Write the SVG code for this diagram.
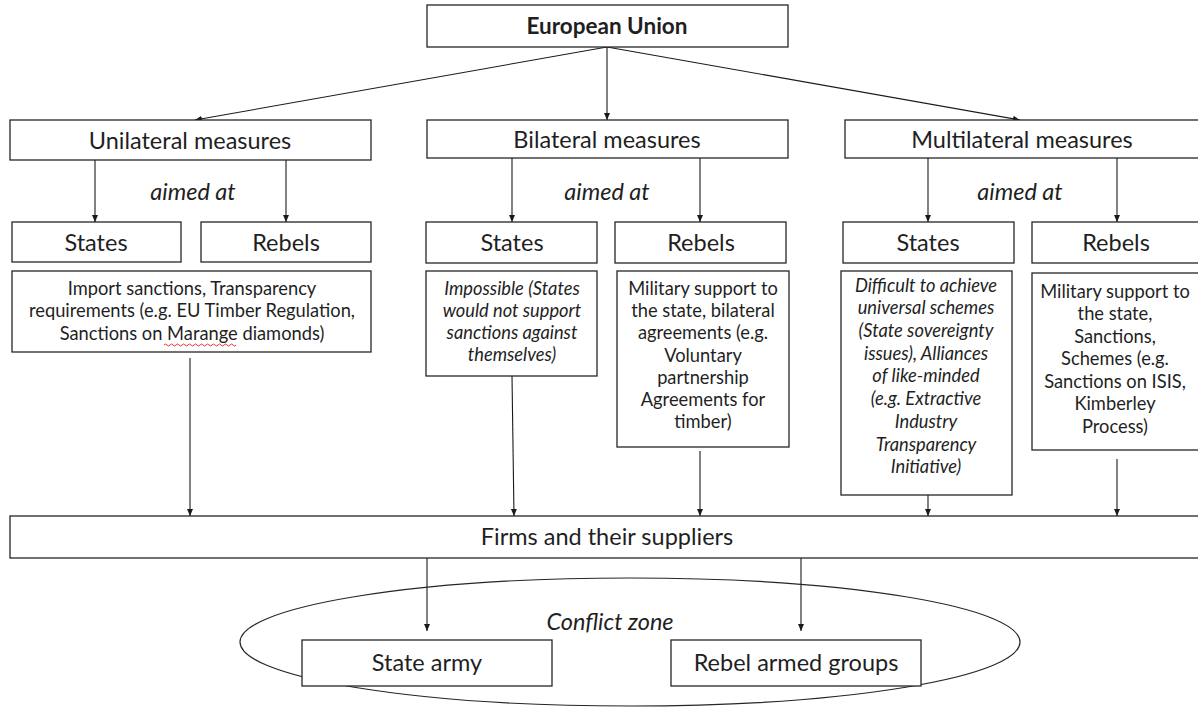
<svg xmlns="http://www.w3.org/2000/svg" width="1198" height="708" viewBox="0 0 1198 708">
<style>
.box{fill:#fff;stroke:#262626;stroke-width:1.3}
.t{font-family:Lato,"Liberation Sans",sans-serif;fill:#1f1f1f;text-anchor:middle}
.h{font-size:23.5px}
.c{font-size:18.3px}
.i{font-style:italic}
.b{font-weight:bold;font-size:22.5px}
.ln{fill:none;stroke:#1a1a1a;stroke-width:1.1}
</style>
<defs>
<marker id="ah" markerWidth="8" markerHeight="8" refX="7" refY="4" orient="auto" markerUnits="userSpaceOnUse">
<path d="M0,1 L7,4 L0,7 Z" fill="#1a1a1a"/>
</marker>
</defs>
<rect width="1198" height="708" fill="#fff"/>

<g id="connectors">
<path class="ln" d="M607,47 L195,120" marker-end="url(#ah)"/>
<path class="ln" d="M607,47 L607,120" marker-end="url(#ah)"/>
<path class="ln" d="M607,47 L1020,120" marker-end="url(#ah)"/>
<path class="ln" d="M95,160 L95,222" marker-end="url(#ah)"/>
<path class="ln" d="M286,160 L286,222" marker-end="url(#ah)"/>
<path class="ln" d="M512,158 L512,222" marker-end="url(#ah)"/>
<path class="ln" d="M700,158 L700,222" marker-end="url(#ah)"/>
<path class="ln" d="M928,158 L928,222" marker-end="url(#ah)"/>
<path class="ln" d="M1117,158 L1117,222" marker-end="url(#ah)"/>
<path class="ln" d="M190,358 L190,516" marker-end="url(#ah)"/>
<path class="ln" d="M512,376 L514,516" marker-end="url(#ah)"/>
<path class="ln" d="M700,451 L700,516" marker-end="url(#ah)"/>
<path class="ln" d="M928,495 L928,516" marker-end="url(#ah)"/>
<path class="ln" d="M1117,459 L1117,516" marker-end="url(#ah)"/>
<path class="ln" d="M427,558 L427,631" marker-end="url(#ah)"/>
<path class="ln" d="M801,558 L801,631" marker-end="url(#ah)"/>
</g>

<g id="eu">
<rect class="box" x="427" y="5" width="361" height="42"/>
<text class="t b" x="607" y="34">European Union</text>
</g>

<g id="unilateral">
<rect class="box" x="10" y="120" width="361" height="40"/>
<text class="t h" x="190" y="149">Unilateral measures</text>
<text class="t h i" x="193" y="200">aimed at</text>
</g>
<g id="bilateral">
<rect class="box" x="427" y="120" width="361" height="38"/>
<text class="t h" x="607" y="148">Bilateral measures</text>
<text class="t h i" x="607" y="200">aimed at</text>
</g>
<g id="multilateral">
<rect class="box" x="845" y="120" width="360" height="38"/>
<text class="t h" x="1022" y="148">Multilateral measures</text>
<text class="t h i" x="1020" y="200">aimed at</text>
</g>

<g id="uni-states">
<rect class="box" x="12" y="222" width="169" height="40"/>
<text class="t h" x="96" y="251">States</text>
</g>
<g id="uni-rebels">
<rect class="box" x="201" y="222" width="170" height="40"/>
<text class="t h" x="286" y="251">Rebels</text>
</g>
<g id="uni-content">
<rect class="box" x="12" y="271" width="359" height="81"/>
<text class="t c" x="192" y="295">Import sanctions, Transparency</text>
<text class="t c" x="192" y="317">requirements (e.g. EU Timber Regulation,</text>
<text class="t c" x="192" y="340">Sanctions on Marange diamonds)</text>
<path d="M164,345 q1.5,-2 3,0 t3,0 t3,0 t3,0 t3,0 t3,0 t3,0 t3,0 t3,0 t3,0 t3,0 t3,0 t3,0 t3,0 t3,0 t3,0 t3,0 t3,0 t3,0 t3,0 t3,0 t3,0 t3,0 t3,0" fill="none" stroke="#e02020" stroke-width="0.9"/>
</g>

<g id="bi-states">
<rect class="box" x="426" y="222" width="171" height="41"/>
<text class="t h" x="512" y="251">States</text>
</g>
<g id="bi-rebels">
<rect class="box" x="615" y="222" width="171" height="41"/>
<text class="t h" x="701" y="251">Rebels</text>
</g>
<g id="bi-states-content">
<rect class="box" x="426" y="271" width="171" height="105"/>
<text class="t c i" x="512" y="295">Impossible (States</text>
<text class="t c i" x="512" y="317">would not support</text>
<text class="t c i" x="512" y="339">sanctions against</text>
<text class="t c i" x="512" y="361">themselves)</text>
</g>
<g id="bi-rebels-content">
<rect class="box" x="617" y="271" width="172" height="176"/>
<text class="t c" x="703" y="295">Military support to</text>
<text class="t c" x="703" y="317">the state, bilateral</text>
<text class="t c" x="703" y="339">agreements (e.g.</text>
<text class="t c" x="703" y="362">Voluntary</text>
<text class="t c" x="703" y="384">partnership</text>
<text class="t c" x="703" y="406">Agreements for</text>
<text class="t c" x="703" y="428">timber)</text>
</g>

<g id="multi-states">
<rect class="box" x="843" y="222" width="171" height="41"/>
<text class="t h" x="928" y="251">States</text>
</g>
<g id="multi-rebels">
<rect class="box" x="1032" y="222" width="170" height="41"/>
<text class="t h" x="1116" y="251">Rebels</text>
</g>
<g id="multi-states-content">
<rect class="box" x="841" y="271" width="171" height="224"/>
<text class="t c i" x="926" y="292">Difficult to achieve</text>
<text class="t c i" x="926" y="314">universal schemes</text>
<text class="t c i" x="926" y="337">(State sovereignty</text>
<text class="t c i" x="926" y="360">issues), Alliances</text>
<text class="t c i" x="926" y="382">of like-minded</text>
<text class="t c i" x="926" y="405">(e.g. Extractive</text>
<text class="t c i" x="926" y="428">Industry</text>
<text class="t c i" x="926" y="451">Transparency</text>
<text class="t c i" x="926" y="473">Initiative)</text>
</g>
<g id="multi-rebels-content">
<rect class="box" x="1032" y="273" width="170" height="177"/>
<text class="t c" x="1115" y="298">Military support to</text>
<text class="t c" x="1115" y="320">the state,</text>
<text class="t c" x="1115" y="343">Sanctions,</text>
<text class="t c" x="1115" y="365">Schemes (e.g.</text>
<text class="t c" x="1115" y="388">Sanctions on ISIS,</text>
<text class="t c" x="1115" y="410">Kimberley</text>
<text class="t c" x="1115" y="433">Process)</text>
</g>

<g id="firms">
<rect class="box" x="10" y="516" width="1195" height="42"/>
<text class="t h" x="607" y="545">Firms and their suppliers</text>
</g>

<g id="conflict-zone">
<ellipse cx="630" cy="642" rx="390" ry="64" fill="none" stroke="#262626" stroke-width="1.2"/>
<text class="t h i" x="610" y="630">Conflict zone</text>
</g>
<g id="state-army">
<rect class="box" x="302" y="640" width="250" height="46"/>
<text class="t h" x="427" y="671">State army</text>
</g>
<g id="rebel-armed-groups">
<rect class="box" x="671" y="640" width="250" height="46"/>
<text class="t h" x="796" y="671">Rebel armed groups</text>
</g>
</svg>
